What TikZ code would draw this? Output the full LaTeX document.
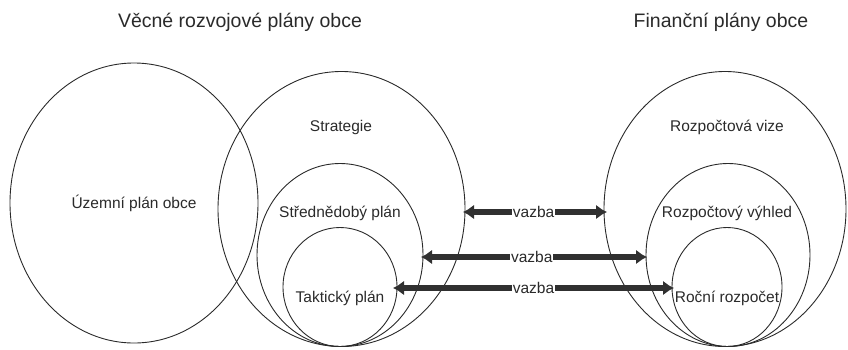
\documentclass[tikz,border=0pt]{standalone}
\usepackage{fontspec}
\setmainfont{Liberation Sans}
\usetikzlibrary{arrows.meta}
\definecolor{ink}{HTML}{2A2A2A}
\definecolor{arr}{HTML}{303030}
\begin{document}
\begin{tikzpicture}[x=1pt,y=-1pt,
  ring/.style={draw=ink,line width=0.9pt},
  lbl/.style={text=ink,font=\fontsize{15.5}{18}\selectfont,inner sep=0pt},
  ttl/.style={text=ink,font=\fontsize{19.5}{22}\selectfont,inner sep=0pt},
  link/.style={draw=arr,line width=5.5pt,{Latex[length=11pt,width=15pt]}-{Latex[length=11pt,width=15pt]}},
  vaz/.style={text=ink,font=\fontsize{15.5}{18}\selectfont,fill=white,inner sep=1pt}]
\useasboundingbox (0,0) rectangle (848,349);
% titles
\node[ttl] (t1) at (240,22) {Věcné rozvojové plány obce};
\node[ttl] (t2) at (721,22) {Finanční plány obce};
% left group
\draw[ring] (134,203) ellipse [x radius=124, y radius=140];
\draw[ring] (341.5,209) ellipse [x radius=123.5, y radius=137.5];
\draw[ring] (340,255) ellipse [x radius=83, y radius=91.5];
\draw[ring] (340,287) ellipse [x radius=57, y radius=59.5];
% right group
\draw[ring] (725,209) ellipse [x radius=121, y radius=137.5];
\draw[ring] (728,255) ellipse [x radius=82, y radius=91.5];
\draw[ring] (727,287) ellipse [x radius=55, y radius=59.5];
% labels
\node[lbl] (uzemni) at (134,203) {Územní plán obce};
\node[lbl] (strat) at (341,127) {Strategie};
\node[lbl] (stred) at (340,213) {Střednědobý plán};
\node[lbl] (takt) at (340,298) {Taktický plán};
\node[lbl] (vize) at (727,127) {Rozpočtová vize};
\node[lbl] (vyhled) at (727,213) {Rozpočtový výhled};
\node[lbl] (rocni) at (727,298) {Roční rozpočet};
% arrow end points on ellipse borders
\coordinate (a1l) at (463,212);
\coordinate (a1r) at (607,212);
\coordinate (a2l) at (421,257);
\coordinate (a2r) at (647,257);
\coordinate (a3l) at (393,288);
\coordinate (a3r) at (674,288);
\draw[link] (a1l) -- (a1r) node[vaz,pos=0.49] (v1) {vazba};
\draw[link] (a2l) -- (a2r) node[vaz,pos=0.49] (v2) {vazba};
\draw[link] (a3l) -- (a3r) node[vaz,pos=0.50] (v3) {vazba};
\end{tikzpicture}
\end{document}
